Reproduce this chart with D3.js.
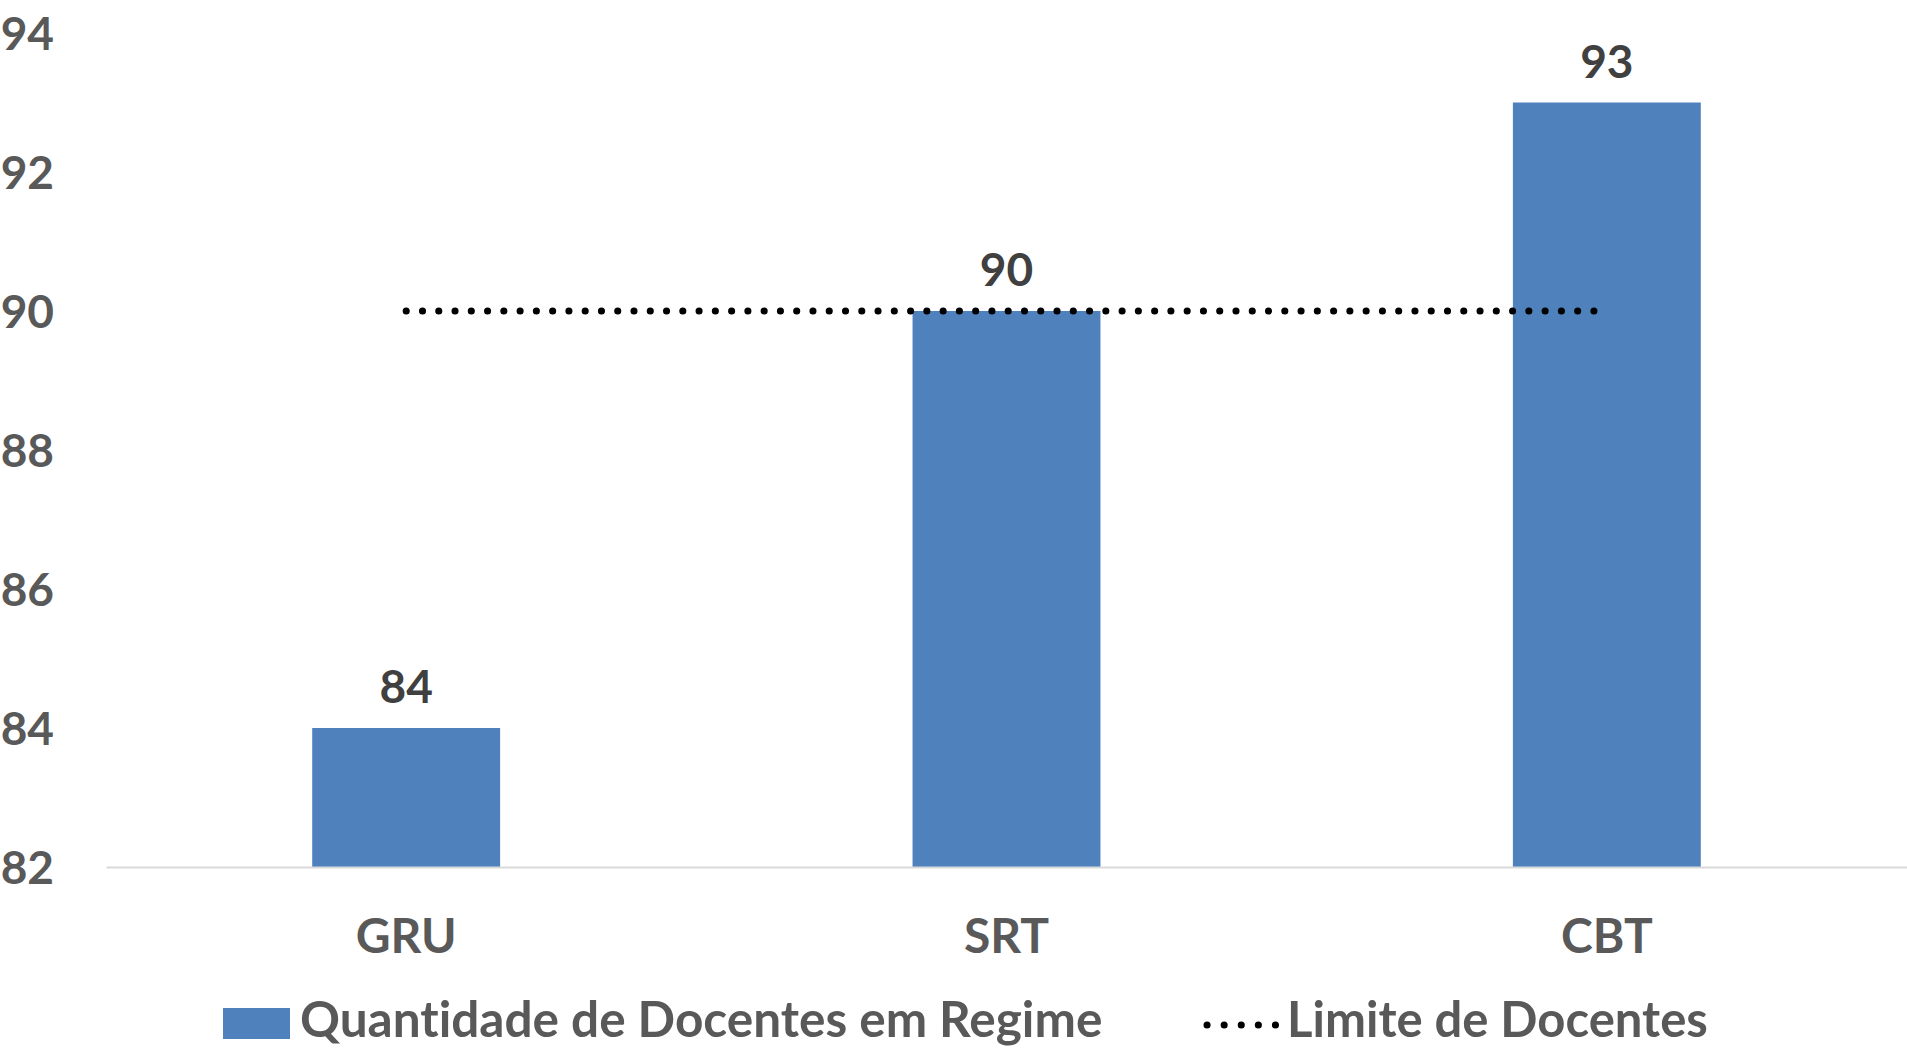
<!DOCTYPE html>
<html>
<head>
<meta charset="utf-8">
<script src="https://cdn.jsdelivr.net/npm/d3@7"></script>
<style>
    body { margin: 0; background: #ffffff; }
    text { font-family: Lato, "Open Sans", sans-serif; font-weight: bold; font-variant-ligatures: none; }
</style>
</head>
<body>
<svg id="drawing_region"></svg>
<script>
const categories = ['GRU', 'SRT', 'CBT'];
const docentes = [84, 90, 93];
const limite = [90, 90, 90];
const y_ticks = [82, 84, 86, 88, 90, 92, 94];
const legend_labels = ['Quantidade de Docentes em Regime', 'Limite de Docentes'];

class BarChart {

    constructor( config ) {
        this.config = config;
        this.init();
    }

    init() {
        let self = this;

        self.svg = d3.select( self.config.parent )
            .attr('width', self.config.width)
            .attr('height', self.config.height);

        self.chart = self.svg.append('g')
            .attr('transform', `translate(${self.config.margin.left}, ${self.config.margin.top})`);

        self.inner_width = self.config.width - self.config.margin.left - self.config.margin.right;
        self.inner_height = self.config.height - self.config.margin.top - self.config.margin.bottom;

        self.xscale = d3.scaleBand()
            .range( [0, self.inner_width] )
            .paddingInner(0.687)
            .paddingOuter(0.3435);

        self.yscale = d3.scaleLinear()
            .range( [self.inner_height, 0] );

        self.yaxis = d3.axisLeft( self.yscale )
            .tickValues( y_ticks )
            .tickSize(0)
            .tickPadding(52);

        self.xaxis = d3.axisBottom( self.xscale )
            .tickSize(0)
            .tickPadding(52);

        self.yaxis_group = self.chart.append('g');
        self.xaxis_group = self.chart.append('g')
            .attr('transform', `translate(0, ${self.inner_height})`);
    }

    update() {
        let self = this;
        self.xscale.domain( categories );
        self.yscale.domain( [d3.min(y_ticks), d3.max(y_ticks)] );
        self.render();
    }

    render() {
        let self = this;
        const data = categories.map( (c, i) => ({ cat: c, value: docentes[i], limit: limite[i] }) );

        self.yaxis_group.call( self.yaxis );
        self.yaxis_group.select('.domain').remove();
        self.yaxis_group.selectAll('text')
            .attr('fill', '#595959')
            .style('font-size', '46px')
            .attr('text-anchor', 'end')
            .attr('dy', '0.36em');

        self.xaxis_group.call( self.xaxis );
        self.xaxis_group.select('.domain')
            .attr('stroke', '#d9d9d9')
            .attr('stroke-width', 2);
        self.xaxis_group.selectAll('text')
            .attr('fill', '#595959')
            .style('font-size', '48px')
            .attr('dy', '0.71em');

        self.chart.selectAll('.bar')
            .data( data )
            .enter()
            .append('rect')
            .attr('class', 'bar')
            .attr('x', d => self.xscale(d.cat))
            .attr('y', d => self.yscale(d.value))
            .attr('width', self.xscale.bandwidth())
            .attr('height', d => self.inner_height - self.yscale(d.value))
            .attr('fill', '#4f81bd');

        // keep the axis line over the bar bottoms
        self.xaxis_group.raise();

        self.chart.selectAll('.label')
            .data( data )
            .enter()
            .append('text')
            .attr('class', 'label')
            .attr('x', d => self.xscale(d.cat) + self.xscale.bandwidth()/2)
            .attr('y', d => self.yscale(d.value) - 25)
            .attr('text-anchor', 'middle')
            .attr('fill', '#404040')
            .style('font-size', '46px')
            .text( d => d.value );

        const line = d3.line()
            .x( d => self.xscale(d.cat) + self.xscale.bandwidth()/2 )
            .y( d => self.yscale(d.limit) );

        self.chart.append('path')
            .datum( data )
            .attr('d', line)
            .attr('fill', 'none')
            .attr('stroke', '#000000')
            .attr('stroke-width', 7)
            .attr('stroke-linecap', 'round')
            .attr('stroke-dasharray', '0.1 16.17');

        // legend
        const legend = self.svg.append('g');
        legend.append('rect')
            .attr('x', 223).attr('y', 1008)
            .attr('width', 67).attr('height', 31)
            .attr('fill', '#4f81bd');
        legend.append('text')
            .attr('x', 300).attr('y', 1037)
            .attr('fill', '#595959')
            .style('font-size', '49.5px')
            .text( legend_labels[0] );
        legend.append('line')
            .attr('x1', 1207).attr('x2', 1277)
            .attr('y1', 1025).attr('y2', 1025)
            .attr('stroke', '#000000')
            .attr('stroke-width', 7)
            .attr('stroke-linecap', 'round')
            .attr('stroke-dasharray', '0.1 17');
        legend.append('text')
            .attr('x', 1287).attr('y', 1037)
            .attr('fill', '#595959')
            .style('font-size', '49px')
            .text( legend_labels[1] );
    }
}

var config = {
    parent: '#drawing_region',
    width: 1907,
    height: 1048,
    margin: {top:33, right:0, bottom:181, left:106}
};

const bar_chart = new BarChart( config );
bar_chart.update();
</script>
</body>
</html>
